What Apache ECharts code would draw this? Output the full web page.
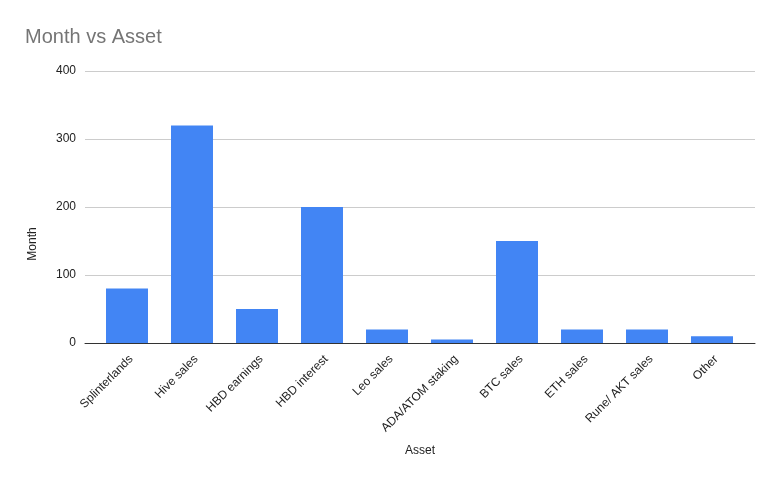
<!DOCTYPE html>
<html><head><meta charset="utf-8">
<script src="https://cdn.jsdelivr.net/npm/echarts@6/dist/echarts.min.js"></script>
<style>html,body{margin:0;padding:0;background:#fff}#c{width:780px;height:482px}</style>
</head><body><div id="c"></div>
<script>
const categories = ["Splinterlands","Hive sales","HBD earnings","HBD interest","Leo sales","ADA/ATOM staking","BTC sales","ETH sales","Rune/ AKT sales","Other"];
const values = [80,320,50,200,20,5,150,20,20,10];
const yTicks = [0,100,200,300,400];

const FONT = 'Liberation Sans, Arial, sans-serif';
const yMin = yTicks[0], yMax = yTicks[yTicks.length-1];
const chart = echarts.init(document.getElementById('c'));
chart.setOption({
  animation:false,
  backgroundColor:'#fff',
  title:{text:'Month vs Asset',left:20,top:22,textStyle:{fontFamily:FONT,fontSize:20,fontWeight:'normal',color:'#757575'}},
  grid:[
    {left:85,right:25,top:71,bottom:139},
    {left:94.5,right:35.5,top:71,bottom:139}
  ],
  xAxis:[
    {type:'value',gridIndex:0,min:0,max:1,axisLine:{show:true,onZero:false,lineStyle:{color:'#333'}},
      axisTick:{show:false},axisLabel:{show:false},splitLine:{show:false},
      name:'Asset',nameLocation:'middle',nameGap:102,nameTextStyle:{fontFamily:FONT,fontSize:12,color:'#222'}},
    {type:'category',gridIndex:1,data:categories,axisLine:{show:false},axisTick:{show:false},
      axisLabel:{rotate:45,interval:0,fontFamily:FONT,fontSize:12,color:'#222',margin:10,verticalAlign:'top'}}
  ],
  yAxis:[
    {type:'value',gridIndex:0,min:yMin,max:yMax,interval:100,name:'Month',nameLocation:'middle',nameGap:46,
      nameTextStyle:{fontFamily:FONT,fontSize:12,color:'#222',padding:[0,74,0,0]},
      axisLine:{show:false},axisTick:{show:false},
      axisLabel:{fontFamily:FONT,fontSize:12,color:'#222',margin:9},
      splitLine:{lineStyle:{color:'#cccccc'}}},
    {type:'value',gridIndex:1,min:yMin,max:yMax,interval:100,show:false,splitLine:{show:false}}
  ],
  series:[{type:'bar',xAxisIndex:1,yAxisIndex:1,data:values,barWidth:'64.6%',itemStyle:{color:'#4285f4'}}]
});
</script></body></html>
